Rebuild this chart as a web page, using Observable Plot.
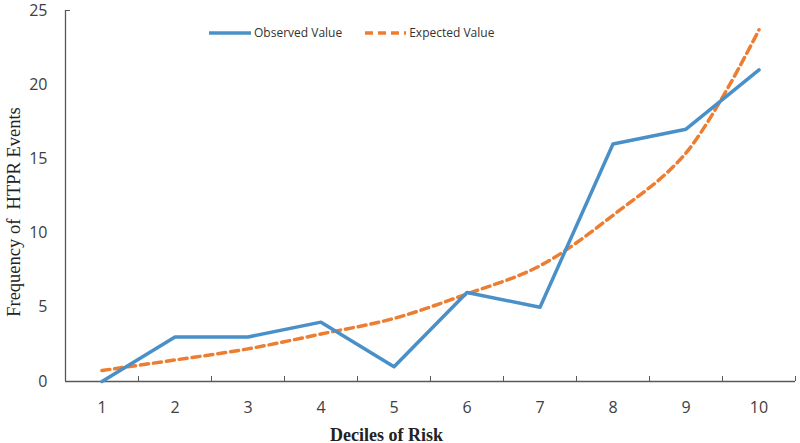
<!DOCTYPE html>
<html>
<head>
<meta charset="utf-8">
<script src="https://cdn.jsdelivr.net/npm/d3@7"></script>
<script src="https://cdn.jsdelivr.net/npm/@observablehq/plot@0.6"></script>
<style>
  html, body { margin: 0; padding: 0; background: #fff; }
  #wrap { position: relative; width: 800px; height: 443px; }
  #legend { position: absolute; left: 209px; top: 24px; display: flex; align-items: center;
    font-family: "Open Sans", sans-serif; font-size: 12px; color: #333; }
  #legend .item { display: flex; align-items: center; margin-right: 22px; }
  #legend svg { margin-right: 3px; }
</style>
</head>
<body>
<div id="wrap">
  <div id="legend">
    <div class="item"><svg width="42" height="10"><line x1="0" y1="5" x2="42" y2="5" stroke="#4a90c8" stroke-width="3.5"/></svg>Observed Value</div>
    <div class="item"><svg width="42" height="10"><line x1="1" y1="5" x2="42" y2="5" stroke="#ed7d31" stroke-width="3.5" stroke-dasharray="8,5"/></svg>Expected Value</div>
  </div>
</div>
<script>
const deciles = [1, 2, 3, 4, 5, 6, 7, 8, 9, 10];
const observed = [0, 3, 3, 4, 1, 6, 5, 16, 17, 21];
const expected = [0.74, 1.45, 2.2, 3.2, 4.25, 5.9, 7.8, 11.2, 15.4, 23.7];
const yTicks = [0, 5, 10, 15, 20, 25];
const yTopTick = [25];
const xBoundaries = [1.5, 2.5, 3.5, 4.5, 5.5, 6.5, 7.5, 8.5, 9.5, 10.5];
const xTitle = "Deciles of Risk";
const yTitle = "Frequency of  HTPR Events";

const obsData = deciles.map((d, i) => ({decile: d, value: observed[i]}));
const expData = deciles.map((d, i) => ({decile: d, value: expected[i]}));

const axisColor = "#595959";
const chart = Plot.plot({
  width: 800,
  height: 443,
  marginLeft: 65,
  marginRight: 5,
  marginTop: 10,
  marginBottom: 62,
  style: {fontFamily: "'Open Sans', sans-serif", fontSize: "14px", color: "#404040", background: "#fff"},
  x: {domain: [0.5, 10.5], axis: null},
  y: {domain: [0, 25], axis: null},
  marks: [
    Plot.axisY({ticks: yTicks, tickSize: 0, tickPadding: 18, fontSize: 16, label: null, fill: "#404040"}),
    Plot.axisY({ticks: yTopTick, tickSize: -5, tickFormat: () => "", label: null, stroke: axisColor}),
    Plot.axisX({ticks: deciles, tickSize: 0, tickPadding: 20, fontSize: 16, label: null, fill: "#404040"}),
    Plot.axisX({ticks: xBoundaries, tickSize: -5, tickFormat: () => "", label: null, stroke: axisColor}),
    Plot.ruleY([0], {stroke: axisColor, strokeWidth: 1.3}),
    Plot.ruleX([0.5], {stroke: axisColor, strokeWidth: 1.3}),
    Plot.line(expData, {x: "decile", y: "value", stroke: "#ed7d31", strokeWidth: 3.5, strokeDasharray: "8,5", curve: "catmull-rom"}),
    Plot.line(obsData, {x: "decile", y: "value", stroke: "#4a90c8", strokeWidth: 3.5}),
    Plot.text([xTitle], {frameAnchor: "bottom", dx: -44, dy: 59, fontFamily: "'Liberation Serif', serif", fontWeight: "bold", fontSize: 18, fill: "#222"}),
    Plot.text([yTitle], {frameAnchor: "left", textAnchor: "middle", dx: -51, dy: 16, rotate: -90, fontFamily: "'Liberation Serif', serif", fontSize: 18.5, fill: "#222"})
  ]
});
document.getElementById("wrap").prepend(chart);
chart.style.position = "absolute";
chart.style.left = "0";
chart.style.top = "0";
document.getElementById("wrap").appendChild(document.getElementById("legend"));
</script>
</body>
</html>
